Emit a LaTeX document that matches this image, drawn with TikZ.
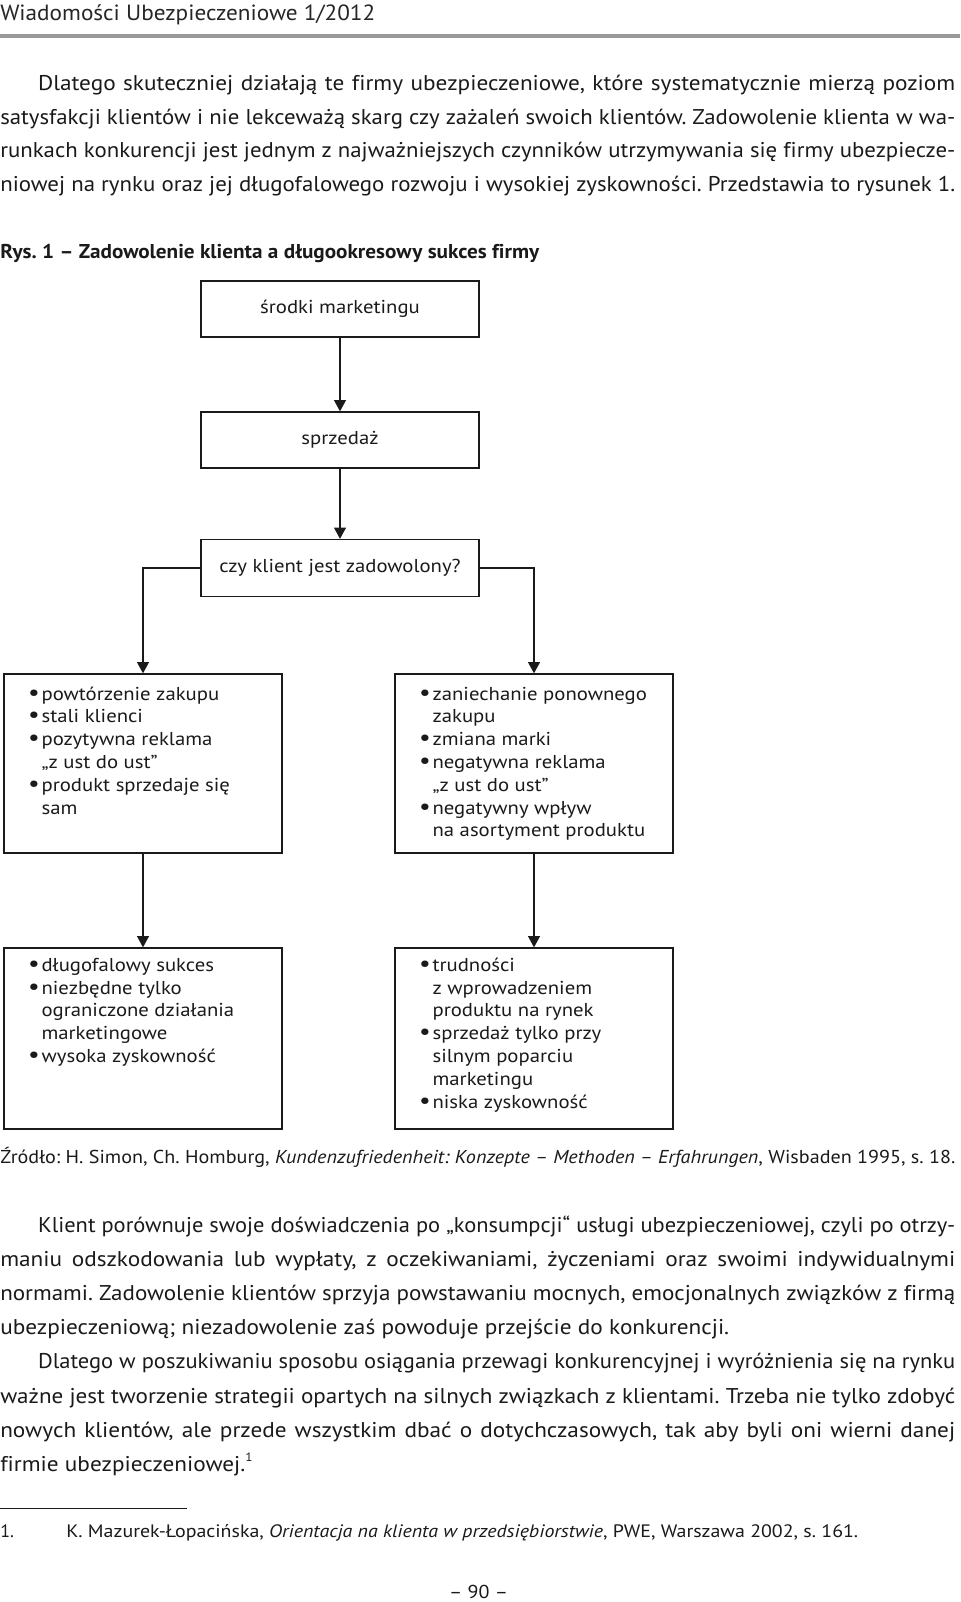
\documentclass[tikz,border=0pt]{standalone}
\usepackage{fontspec}
\setmainfont{PT Sans}[FakeStretch=1.09,Ligatures=CommonOff]
\newfontfamily\boxfont{PT Sans}[FakeStretch=1.11,Ligatures=CommonOff]
\newfontfamily\plainfont{PT Sans}[Ligatures=CommonOff]
\usetikzlibrary{arrows.meta}
\frenchspacing
\newdimen\pxu \pxu=0.75pt
\newsavebox\lnbox
\newdimen\lnw
\definecolor{ink}{HTML}{1A1A1A}
\newcommand\fitline[2]{\lnw=#1\pxu\sbox\lnbox{#2}\ifdim\wd\lnbox>\lnw\resizebox{\lnw}{\height}{\usebox\lnbox}\else\makebox[\lnw][s]{#2}\fi}
\newcommand\jl[4]{\node[anchor=base west,inner sep=0pt] (#1) at (#2) {\fitline{#3}{#4}};}
\newcommand\nl[3]{\node[anchor=base west,inner sep=0pt] (#1) at (#2) {#3};}
\newcommand\bi{\makebox[12\pxu][l]{\hspace*{-1.5\pxu}\scalebox{1.25}{•}}}
\newcommand\ci{\hspace*{12\pxu}}
\tikzset{
  boxnode/.style={draw=ink, line width=1pt, minimum width=208.5pt, inner sep=0pt, font=\boxfont\fontsize{14pt}{17pt}\selectfont},
  flow/.style={draw=ink, line width=1pt, -{Triangle[width=9pt,length=8.5pt]}},
  listtxt/.style={anchor=base west, inner sep=0pt, font=\boxfont\fontsize{14pt}{17.1pt}\selectfont, text=ink}
}
\begin{document}
\begin{tikzpicture}[x=0.75pt,y=-0.75pt, text=ink, font=\fontsize{16pt}{19pt}\selectfont]
\fill[white] (0,0) rectangle (960,1602);
\useasboundingbox (0,0) rectangle (960,1602);
% header
\node[anchor=base west,inner sep=0pt,text=black!85] (hdr) at (0,21) {\resizebox{375\pxu}{\height}{\plainfont\fontsize{16.5pt}{18pt}\selectfont Wiadomości Ubezpieczeniowe 1/2012}};
\draw[line width=2.4pt, black!40] (0,36) -- (960,36);
% paragraph 1
\jl{p1a}{37.8,90.5}{917.2}{Dlatego skuteczniej działają te firmy ubezpieczeniowe, które systematycznie mierzą poziom}
\jl{p1b}{0,124}{955}{satysfakcji klientów i nie lekceważą skarg czy zażaleń swoich klientów. Zadowolenie klienta w wa-}
\jl{p1c}{0,157.8}{955}{runkach konkurencji jest jednym z najważniejszych czynników utrzymywania się firmy ubezpiecze-}
\jl{p1d}{0,191.2}{955}{niowej na rynku oraz jej długofalowego rozwoju i wysokiej zyskowności. Przedstawia to rysunek 1.}
% caption
\node[anchor=base west,inner sep=0pt] (cap) at (0,258) {\resizebox{539\pxu}{\height}{\plainfont\fontsize{15pt}{18pt}\selectfont\bfseries Rys. 1 – Zadowolenie klienta a długookresowy sukces firmy}};
% boxes
\node[boxnode, minimum height=42pt] (b1) at (340,309) {środki marketingu};
\node[boxnode, minimum height=42pt] (b2) at (340,440) {sprzedaż};
\node[boxnode, minimum height=42.75pt] (b3) at (340,568) {czy klient jest zadowolony?};
\node[boxnode, minimum height=134.25pt] (b4) at (143,763.5) {};
\node[boxnode, minimum height=134.25pt] (b5) at (534,763.5) {};
\node[boxnode, minimum height=135.75pt] (b6) at (143,1038.5) {};
\node[boxnode, minimum height=135.75pt] (b7) at (534,1038.5) {};
\draw[flow] (b1) -- (b2);
\draw[flow] (b2) -- (b3);
\draw[flow] (b3.west) -| (b4.north);
\draw[flow] (b3.east) -| (b5.north);
\draw[flow] (b4) -- (b6);
\draw[flow] (b5) -- (b7);
% list texts
\node[listtxt, xshift=19.5pt, yshift=-20pt] (t4) at (b4.north west) {\parbox[t]{195pt}{\raggedright
\bi powtórzenie zakupu\\
\bi stali klienci\\
\bi pozytywna reklama\\
\ci „z ust do ust”\\
\bi produkt sprzedaje się\\
\ci sam}};
\node[listtxt, xshift=19.5pt, yshift=-20pt] (t5) at (b5.north west) {\parbox[t]{195pt}{\raggedright
\bi zaniechanie ponownego\\
\ci zakupu\\
\bi zmiana marki\\
\bi negatywna reklama\\
\ci „z ust do ust”\\
\bi negatywny wpływ\\
\ci na asortyment produktu}};
\node[listtxt, xshift=19.5pt, yshift=-18pt] (t6) at (b6.north west) {\parbox[t]{195pt}{\raggedright
\bi długofalowy sukces\\
\bi niezbędne tylko\\
\ci ograniczone działania\\
\ci marketingowe\\
\bi wysoka zyskowność}};
\node[listtxt, xshift=19.5pt, yshift=-18pt] (t7) at (b7.north west) {\parbox[t]{195pt}{\raggedright
\bi trudności\\
\ci z wprowadzeniem\\
\ci produktu na rynek\\
\bi sprzedaż tylko przy\\
\ci silnym poparciu\\
\ci marketingu\\
\bi niska zyskowność}};
% source
\node[anchor=base west,inner sep=0pt] (src) at (0,1163) {\resizebox{955\pxu}{\height}{\plainfont\fontsize{14pt}{17pt}\selectfont Źródło: H. Simon, Ch. Homburg, \textit{Kundenzufriedenheit: Konzepte – Methoden – Erfahrungen}, Wisbaden 1995, s. 18.}};
% paragraphs 2 and 3
\jl{p2a}{37.8,1232.5}{917.2}{Klient porównuje swoje doświadczenia po „konsumpcji“ usługi ubezpieczeniowej, czyli po otrzy-}
\jl{p2b}{0,1266.6}{955}{maniu odszkodowania lub wypłaty, z oczekiwaniami, życzeniami oraz swoimi indywidualnymi}
\jl{p2c}{0,1300.7}{955}{normami. Zadowolenie klientów sprzyja powstawaniu mocnych, emocjonalnych związków z firmą}
\nl{p2d}{0,1334.8}{ubezpieczeniową; niezadowolenie zaś powoduje przejście do konkurencji.}
\jl{p3a}{37.8,1368.9}{917.2}{Dlatego w poszukiwaniu sposobu osiągania przewagi konkurencyjnej i wyróżnienia się na rynku}
\jl{p3b}{0,1403}{955}{ważne jest tworzenie strategii opartych na silnych związkach z klientami. Trzeba nie tylko zdobyć}
\jl{p3c}{0,1437.1}{955}{nowych klientów, ale przede wszystkim dbać o dotychczasowych, tak aby byli oni wierni danej}
\nl{p3d}{0,1471.2}{firmie ubezpieczeniowej.\raisebox{0.45em}{\fontsize{9pt}{10pt}\selectfont 1}}
% footnote
\draw[line width=0.9pt, ink] (0,1508.5) -- (187,1508.5);
\node[anchor=base west,inner sep=0pt] (fn1) at (0,1537) {\plainfont\fontsize{13.5pt}{16pt}\selectfont 1.};
\node[anchor=base west,inner sep=0pt] (fn) at (66,1537) {\resizebox{792\pxu}{\height}{\plainfont\fontsize{13.5pt}{16pt}\selectfont K. Mazurek-Łopacińska, \textit{Orientacja na klienta w przedsiębiorstwie}, PWE, Warszawa 2002, s. 161.}};
% page number
\node[anchor=base,inner sep=0pt] (pg) at (478.5,1598) {\resizebox{59\pxu}{\height}{\plainfont\fontsize{14pt}{16pt}\selectfont – 90 –}};
\end{tikzpicture}
\end{document}
